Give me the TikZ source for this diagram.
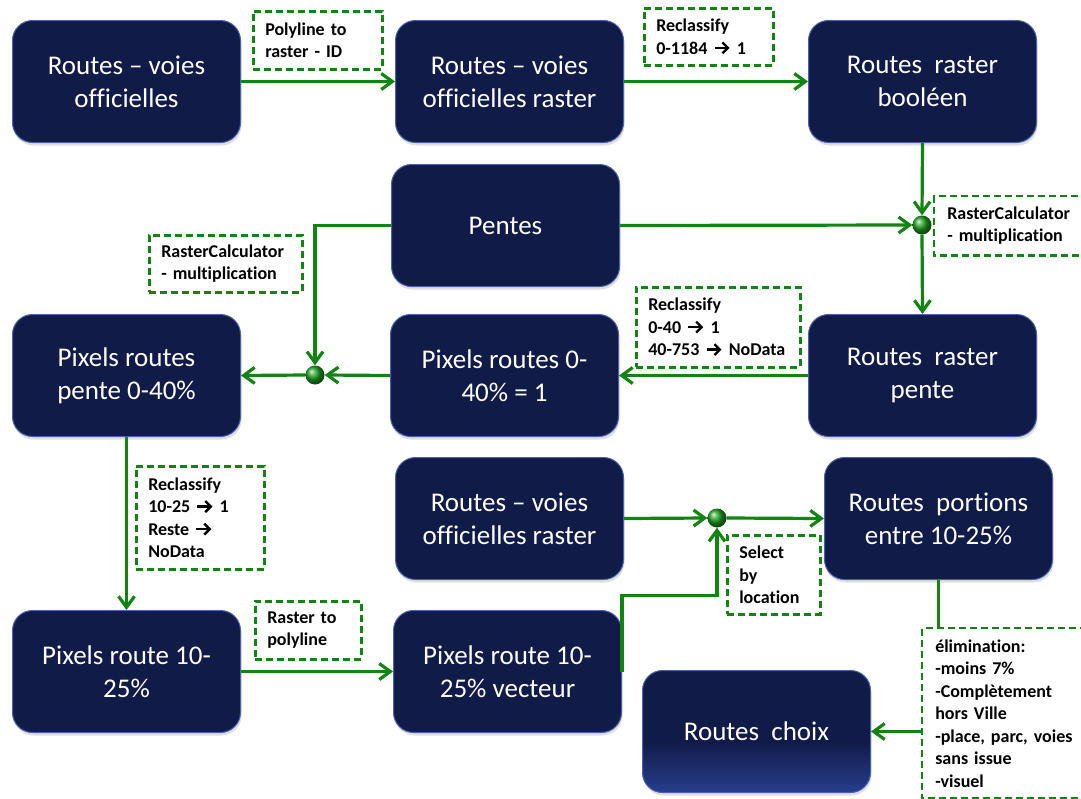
\documentclass[tikz,border=0pt]{standalone}
\usepackage{fontspec}
\setmainfont[Ligatures=NoCommon]{Carlito}
\usetikzlibrary{arrows.meta,shadows,calc}
\definecolor{navy}{RGB}{17,27,72}
\definecolor{navyedge}{RGB}{72,98,172}
\definecolor{navylight}{RGB}{40,62,142}
\definecolor{flowgreen}{RGB}{18,132,18}
\definecolor{jointgreen}{RGB}{30,160,30}
\pgfdeclareverticalshading{choixshade}{100bp}{color(0bp)=(navylight); color(25bp)=(navylight); color(46bp)=(navy); color(100bp)=(navy)}
\newcommand{\rarr}{\tikz[baseline=-6.2pt]\draw[line width=2.4pt,-{Straight Barb[length=5.5pt,width=11pt,line width=2.4pt]}] (0pt,0pt) -- (15pt,0pt);}
\begin{document}
\begin{tikzpicture}[x=1pt,y=-1pt,
  procbox/.style={draw=navyedge, line width=1pt, fill=navy, rounded corners=20pt,
    minimum width=228pt, minimum height=122pt, text=white,
    font=\fontsize{27}{33}\selectfont, align=center, inner sep=0pt, anchor=north west,
    drop shadow={shadow xshift=1pt, shadow yshift=-3pt, opacity=0.25}},
  dashline/.style={draw=flowgreen, line width=2.5pt, dash pattern=on 7pt off 4pt},
  oplabel/.style={dashline, fill=white, font=\fontsize{18}{22.5}\selectfont\bfseries,
    align=left, anchor=north west, inner xsep=12pt, inner ysep=0pt},
  openlabel/.style={oplabel, draw=none},
  flow/.style={draw=flowgreen, line width=3.2pt, -{Straight Barb[length=11pt,width=16pt]}},
  plainflow/.style={draw=flowgreen, line width=3.2pt},
  joint/.style={circle, minimum size=19pt, inner sep=0pt, ball color=jointgreen}
]
\useasboundingbox (0,0) rectangle (1081,798);
\fill[white] (0,0) rectangle (1081,798);

% process boxes
\node[procbox] (b1) at (12,20) {Routes -- voies\\officielles};
\node[procbox] (b2) at (395,20) {Routes -- voies\\officielles raster};
\node[procbox] (b3) at (808,20) {Routes~~raster\\booléen};
\node[procbox] (b4) at (391,164) {Pentes};
\node[procbox] (b5) at (12,314) {Pixels routes\\pente 0-40\%};
\node[procbox] (b6) at (390,314) {Pixels routes 0-\\40\% = 1};
\node[procbox] (b7) at (808,314) {Routes~~raster\\pente};
\node[procbox] (b8) at (395,457) {Routes -- voies\\officielles raster};
\node[procbox] (b9) at (824,457) {Routes~~portions\\entre 10-25\%};
\node[procbox] (b10) at (12,610) {Pixels route 10-\\25\%};
\node[procbox] (b11) at (393,610) {Pixels route 10-\\25\% vecteur};
\node[procbox, shading=choixshade] (b12) at (642,670) {Routes~~choix};

% junctions
\node[joint] (d1) at (922,225) {};
\node[joint] (d2) at (315,375) {};
\node[joint] (d3) at (717,518) {};

% operation labels
\node[oplabel, text width=105pt, minimum height=58pt] (l1) at (252,10) {Polyline to\\raster - ID};
\node[oplabel, text width=105pt, minimum height=57pt] (l2) at (643,7) {Reclassify\\0-1184 \rarr{} 1};
\node[openlabel, text width=150pt, minimum height=57pt] (l3) at (934,196) {RasterCalculator\\- multiplication};
\draw[dashline] (l3.north east) -- (l3.north west) -- (l3.south west) -- (l3.south east);
\node[oplabel, text width=129pt, minimum height=57pt] (l4) at (148,234) {RasterCalculator\\- multiplication};
\node[oplabel, text width=140pt, minimum height=80pt] (l5) at (635,286) {Reclassify\\0-40 \rarr{} 1\\40-753 \rarr{} NoData};
\node[oplabel, text width=104pt, minimum height=103pt] (l6) at (135,465) {Reclassify\\10-25 \rarr{} 1\\Reste \rarr\\NoData};
\node[oplabel, text width=82pt, minimum height=58pt] (l7) at (254,600) {Raster to\\polyline};
\node[oplabel, text width=69pt, minimum height=79pt] (l8) at (726,534) {Select\\by\\location};
\node[openlabel, text width=160pt, minimum height=168pt] (l9) at (922,628) {élimination:\\-moins 7\%\\-Complètement\\hors Ville\\-place, parc, voies\\sans issue\\-visuel};
\draw[dashline] (l9.north east) -- (l9.north west) -- (l9.south west) -- (l9.south east);

% connectors
\draw[flow] (b1.east) -- (b2.west);
\draw[flow] (b2.east) -- (b3.west);
\draw[flow] (b3.south) -- (d1.north);
\draw[flow] (b4.east) -- (d1.west);
\draw[flow] (d1.south) -- (b7.north);
\draw[flow] (b4.west) -| (d2.north);
\draw[flow] (b6.west) -- (d2.east);
\draw[flow] (d2.west) -- (b5.east);
\draw[flow] (b7.west) -- (b6.east);
\draw[flow] (b5.south) -- (b10.north);
\draw[flow] (b10.east) -- (b11.west);
\draw[flow] (b8.east) -- (d3.west);
\draw[flow] (d3.east) -- (b9.west);
\draw[flow] (b11.east) -- ++(0,-76) -| (d3.south);
\draw[plainflow] (b9.south) -- (l9.north -| b9.south);
\draw[flow] (l9.west |- b12.east) -- (b12.east);
\end{tikzpicture}
\end{document}
